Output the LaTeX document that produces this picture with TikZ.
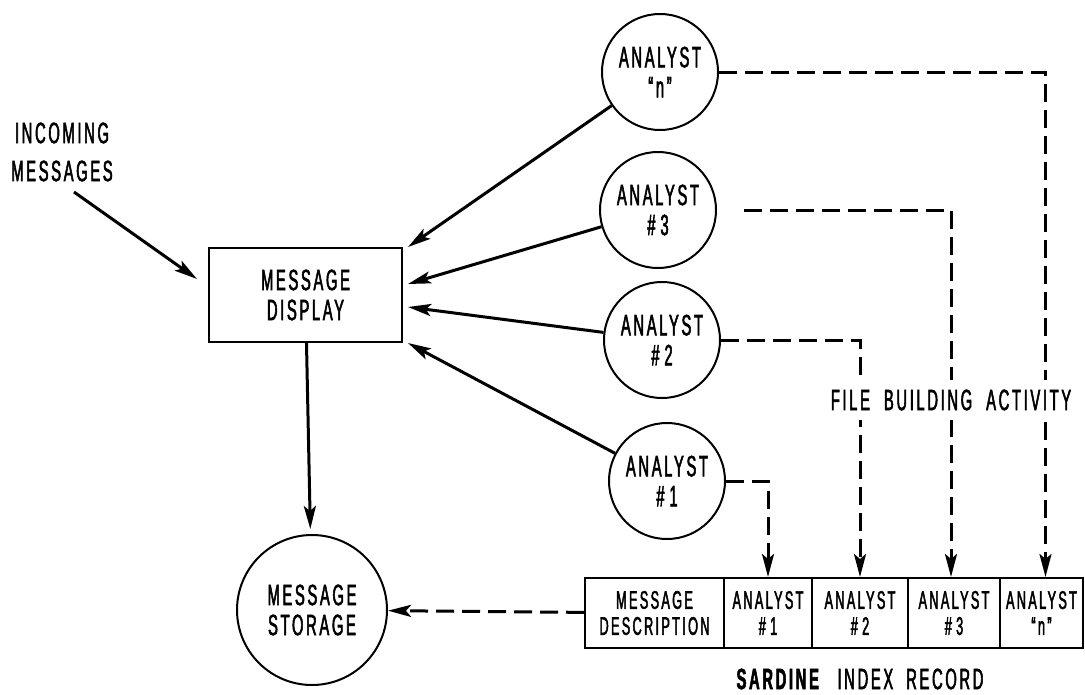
\documentclass[tikz,border=0pt]{standalone}
\usepackage{fontspec}
\setmainfont{Liberation Sans}[FakeStretch=0.5,LetterSpace=9,FakeBold=1.8]
\usetikzlibrary{arrows.meta}

\begin{document}
\begin{tikzpicture}[x=1pt,y=-1pt,
  every node/.style={align=center,inner sep=0pt,font=\fontsize{29.5}{30}\selectfont},
  outline/.style={draw,line width=2pt},
  analyst/.style={outline,circle,minimum size=116pt},
  cell/.style={outline,rectangle,minimum height=70pt,font=\fontsize{25.5}{26}\selectfont},
  flow/.style={line width=3pt,-{Stealth[length=23pt,width=12pt,inset=5pt]}},
  filing/.style={flow,dash pattern=on 18pt off 8pt}]
\useasboundingbox (0,0) rectangle (1085,694);

% processing units
\node[outline,minimum width=193pt,minimum height=94pt] (md) at (305.5,295) {MESSAGE\\DISPLAY};
\node[outline,circle,minimum size=150pt] (st) at (312,610) {MESSAGE\\STORAGE};

% analysts
\node[analyst] (an) at (660,72)  {ANALYST\\“n”};
\node[analyst] (a3) at (658,210) {ANALYST\\\#\,3};
\node[analyst] (a2) at (662,340) {ANALYST\\\#\,2};
\node[analyst] (a1) at (667,481) {ANALYST\\\#\,1};

% index record fields
\node[cell,minimum width=139pt] (r0) at (654.5,613) {MESSAGE\\DESCRIPTION};
\node[cell,minimum width=88pt]  (r1) at (768,613)   {ANALYST\\\#\,1};
\node[cell,minimum width=96pt]  (r2) at (860,613)   {ANALYST\\\#\,2};
\node[cell,minimum width=92pt]  (r3) at (954,613)   {ANALYST\\\#\,3};
\node[cell,minimum width=83pt]  (rn) at (1041.5,613) {ANALYST\\“n”};

% incoming traffic
\node[font=\fontsize{29.5}{38}\selectfont] (inc) at (62,152) {INCOMING\\MESSAGES};
\coordinate (in0) at (74,192);
\draw[flow] (in0) -- ([shift={(-11,32)}]md.north west);

% analysts reading the display
\draw[flow] (an) -- ([shift={(5,0)}]md.north east);
\draw[flow] (a3) -- ([shift={(5,37)}]md.north east);
\draw[flow] (a2) -- ([shift={(5,60)}]md.north east);
\draw[flow] (a1) -- ([shift={(5,0)}]md.south east);

% storage
\draw[flow,shorten >=5pt] (md) -- (st);
\draw[filing] (r0) -- (st);

% file building
\draw[filing] (an.east) -| ([xshift=4pt]rn.north);
\draw[filing] ([xshift=27pt]a3.east) -| ([xshift=-3pt]r3.north);
\draw[filing] (a2.east) -| (r2.north);
\draw[filing] (a1.east) -| (r1.north);

\node[fill=white,inner xsep=4pt,inner ysep=10pt] (fba) at (951,400)
  {FILE\hspace{14pt}BUILDING\hspace{14pt}ACTIVITY};
\node (sir) at (860,679) {\textbf{SARDINE}\hspace{16pt}INDEX\hspace{13pt}RECORD};
\end{tikzpicture}
\end{document}
